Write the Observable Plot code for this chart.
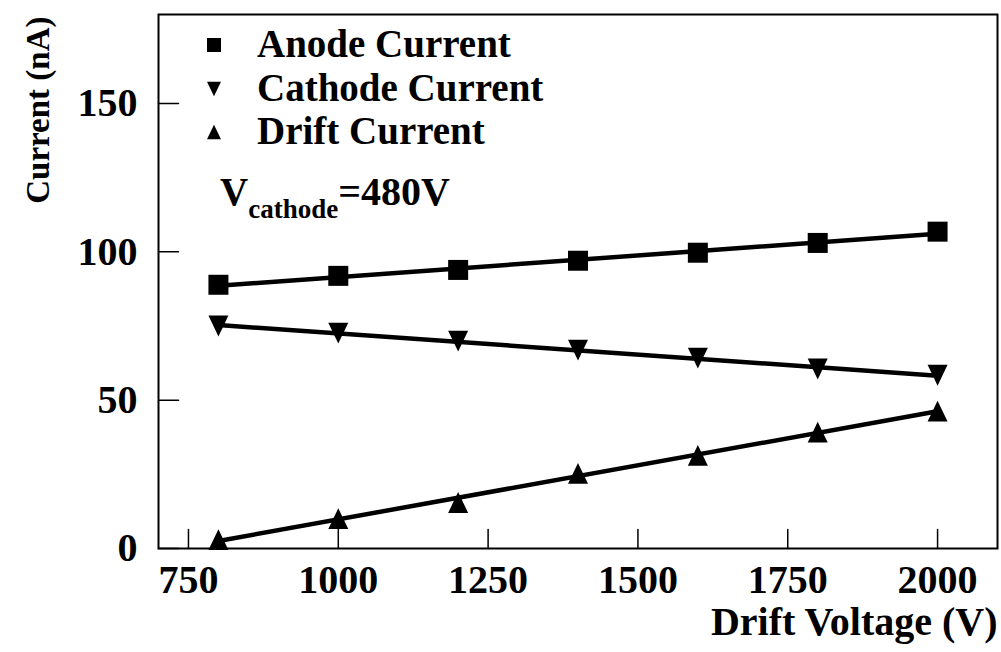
<!DOCTYPE html>
<html><head><meta charset="utf-8">
<script src="https://cdn.jsdelivr.net/npm/d3@7"></script>
<script src="https://cdn.jsdelivr.net/npm/@observablehq/plot@0.6"></script>
<style>
html,body{margin:0;padding:0;background:#fff;}
#chart{position:relative;width:1001px;height:652px;overflow:hidden;}
</style></head><body><div id="chart"></div>
<script>
// ---- data ----
const voltages = [800, 1000, 1200, 1400, 1600, 1800, 2000];
const anodeCurrent = [88.9, 91.9, 93.9, 97.0, 99.7, 103.0, 106.8];
const cathodeCurrent = [75.0, 72.6, 69.9, 66.9, 64.2, 60.5, 58.4];
const driftCurrent = [3.0, 10.1, 15.5, 25.3, 31.4, 39.2, 46.3];
const seriesNames = ["Anode Current", "Cathode Current", "Drift Current"];
const xTicks = [750, 1000, 1250, 1500, 1750, 2000];
const yTicks = [0, 50, 100, 150];
const xDomain = [700, 2100];
const yDomain = [0, 180];
const xLabel = "Drift Voltage (V)";
const yLabel = "Current (nA)";

const seriesValues = [anodeCurrent, cathodeCurrent, driftCurrent];
const rows = [];
seriesValues.forEach((vals, i) => vals.forEach((v, j) => rows.push({series: seriesNames[i], x: voltages[j], y: v})));

// custom symbols (size = pi r^2)
const symSquare = {draw(ctx, size) {const s = Math.sqrt(size) / 2; ctx.moveTo(-s, -s); ctx.lineTo(s, -s); ctx.lineTo(s, s); ctx.lineTo(-s, s); ctx.closePath();}};
const symDown = {draw(ctx, size) {const w = Math.sqrt(size) / 2, h = Math.sqrt(size) * 0.52; ctx.moveTo(-w, -h); ctx.lineTo(w, -h); ctx.lineTo(0, h); ctx.closePath();}};
const symUp = {draw(ctx, size) {const w = Math.sqrt(size) / 2, h = Math.sqrt(size) * 0.52; ctx.moveTo(-w, h); ctx.lineTo(w, h); ctx.lineTo(0, -h); ctx.closePath();}};
const symbols = [symSquare, symDown, symUp];
const R = 20 / Math.sqrt(Math.PI);
const tickLine = {draw(ctx, l) {ctx.moveTo(0, 0); ctx.lineTo(0, -l);}};

const font = "'Liberation Serif', 'Times New Roman', serif";

const chart = Plot.plot({
  width: 1001, height: 652,
  marginLeft: 158, marginRight: 4, marginTop: 14, marginBottom: 104,
  x: {domain: xDomain},
  y: {domain: yDomain},
  style: {fontFamily: font, fontWeight: "bold", fontSize: "40px", color: "#000", background: "#fff", overflow: "visible"},
  marks: [
    Plot.axisX({ticks: xTicks, tickSize: 0, tickPadding: 16, tickFormat: d => String(d), label: null}),
    Plot.axisY({ticks: yTicks, tickSize: 0, tickPadding: 21, tickFormat: d => String(d), label: null}),
    // inward ticks
    Plot.vector(xTicks, {x: d => d, frameAnchor: "bottom", length: 19, rotate: 0, anchor: "start", shape: tickLine, stroke: "#000", strokeWidth: 1.5}),
    Plot.vector(yTicks, {y: d => d, frameAnchor: "left", length: 20, rotate: 90, anchor: "start", shape: tickLine, stroke: "#000", strokeWidth: 1.5}),
    Plot.frame({stroke: "#000", strokeWidth: 2}),
    Plot.linearRegressionY(rows, {x: "x", y: "y", z: "series", stroke: "#000", strokeWidth: 4.5, ci: 0}),
    ...seriesNames.map((name, i) => Plot.dot(rows.filter(d => d.series === name), {
      x: "x", y: "y", symbol: symbols[i], r: R, fill: "#000", stroke: "none"
    })),
    Plot.text([yLabel], {text: d => d, frameAnchor: "top-left", rotate: -90, textAnchor: "end", dx: -133, dy: 2, fontSize: 33}),
    Plot.text([xLabel], {text: d => d, frameAnchor: "bottom-right", textAnchor: "end", lineAnchor: "bottom", dy: 86, fontSize: 40})
  ]
});
document.getElementById("chart").appendChild(chart);

// ---- legend & annotation ----
const svg = d3.select(chart);
const lg = svg.append("g").attr("font-family", font).attr("font-weight", "bold").attr("text-anchor", "start");
const legendRows = [45, 89, 132];
seriesNames.forEach((name, i) => {
  lg.append("path")
    .attr("transform", `translate(214,${legendRows[i]})`)
    .attr("d", d3.symbol().type(symbols[i]).size(14 * 14)())
    .attr("fill", "#000");
  lg.append("text").attr("x", 257).attr("y", legendRows[i] + 12)
    .attr("font-size", 39).attr("fill", "#000").text(name);
});
const ann = lg.append("text").attr("x", 220).attr("y", 205).attr("fill", "#000");
ann.append("tspan").attr("font-size", 39).text("V");
ann.append("tspan").attr("font-size", 27).attr("dy", 13).text("cathode");
ann.append("tspan").attr("font-size", 40).attr("dy", -13).text("=480V");
</script>
</body></html>
